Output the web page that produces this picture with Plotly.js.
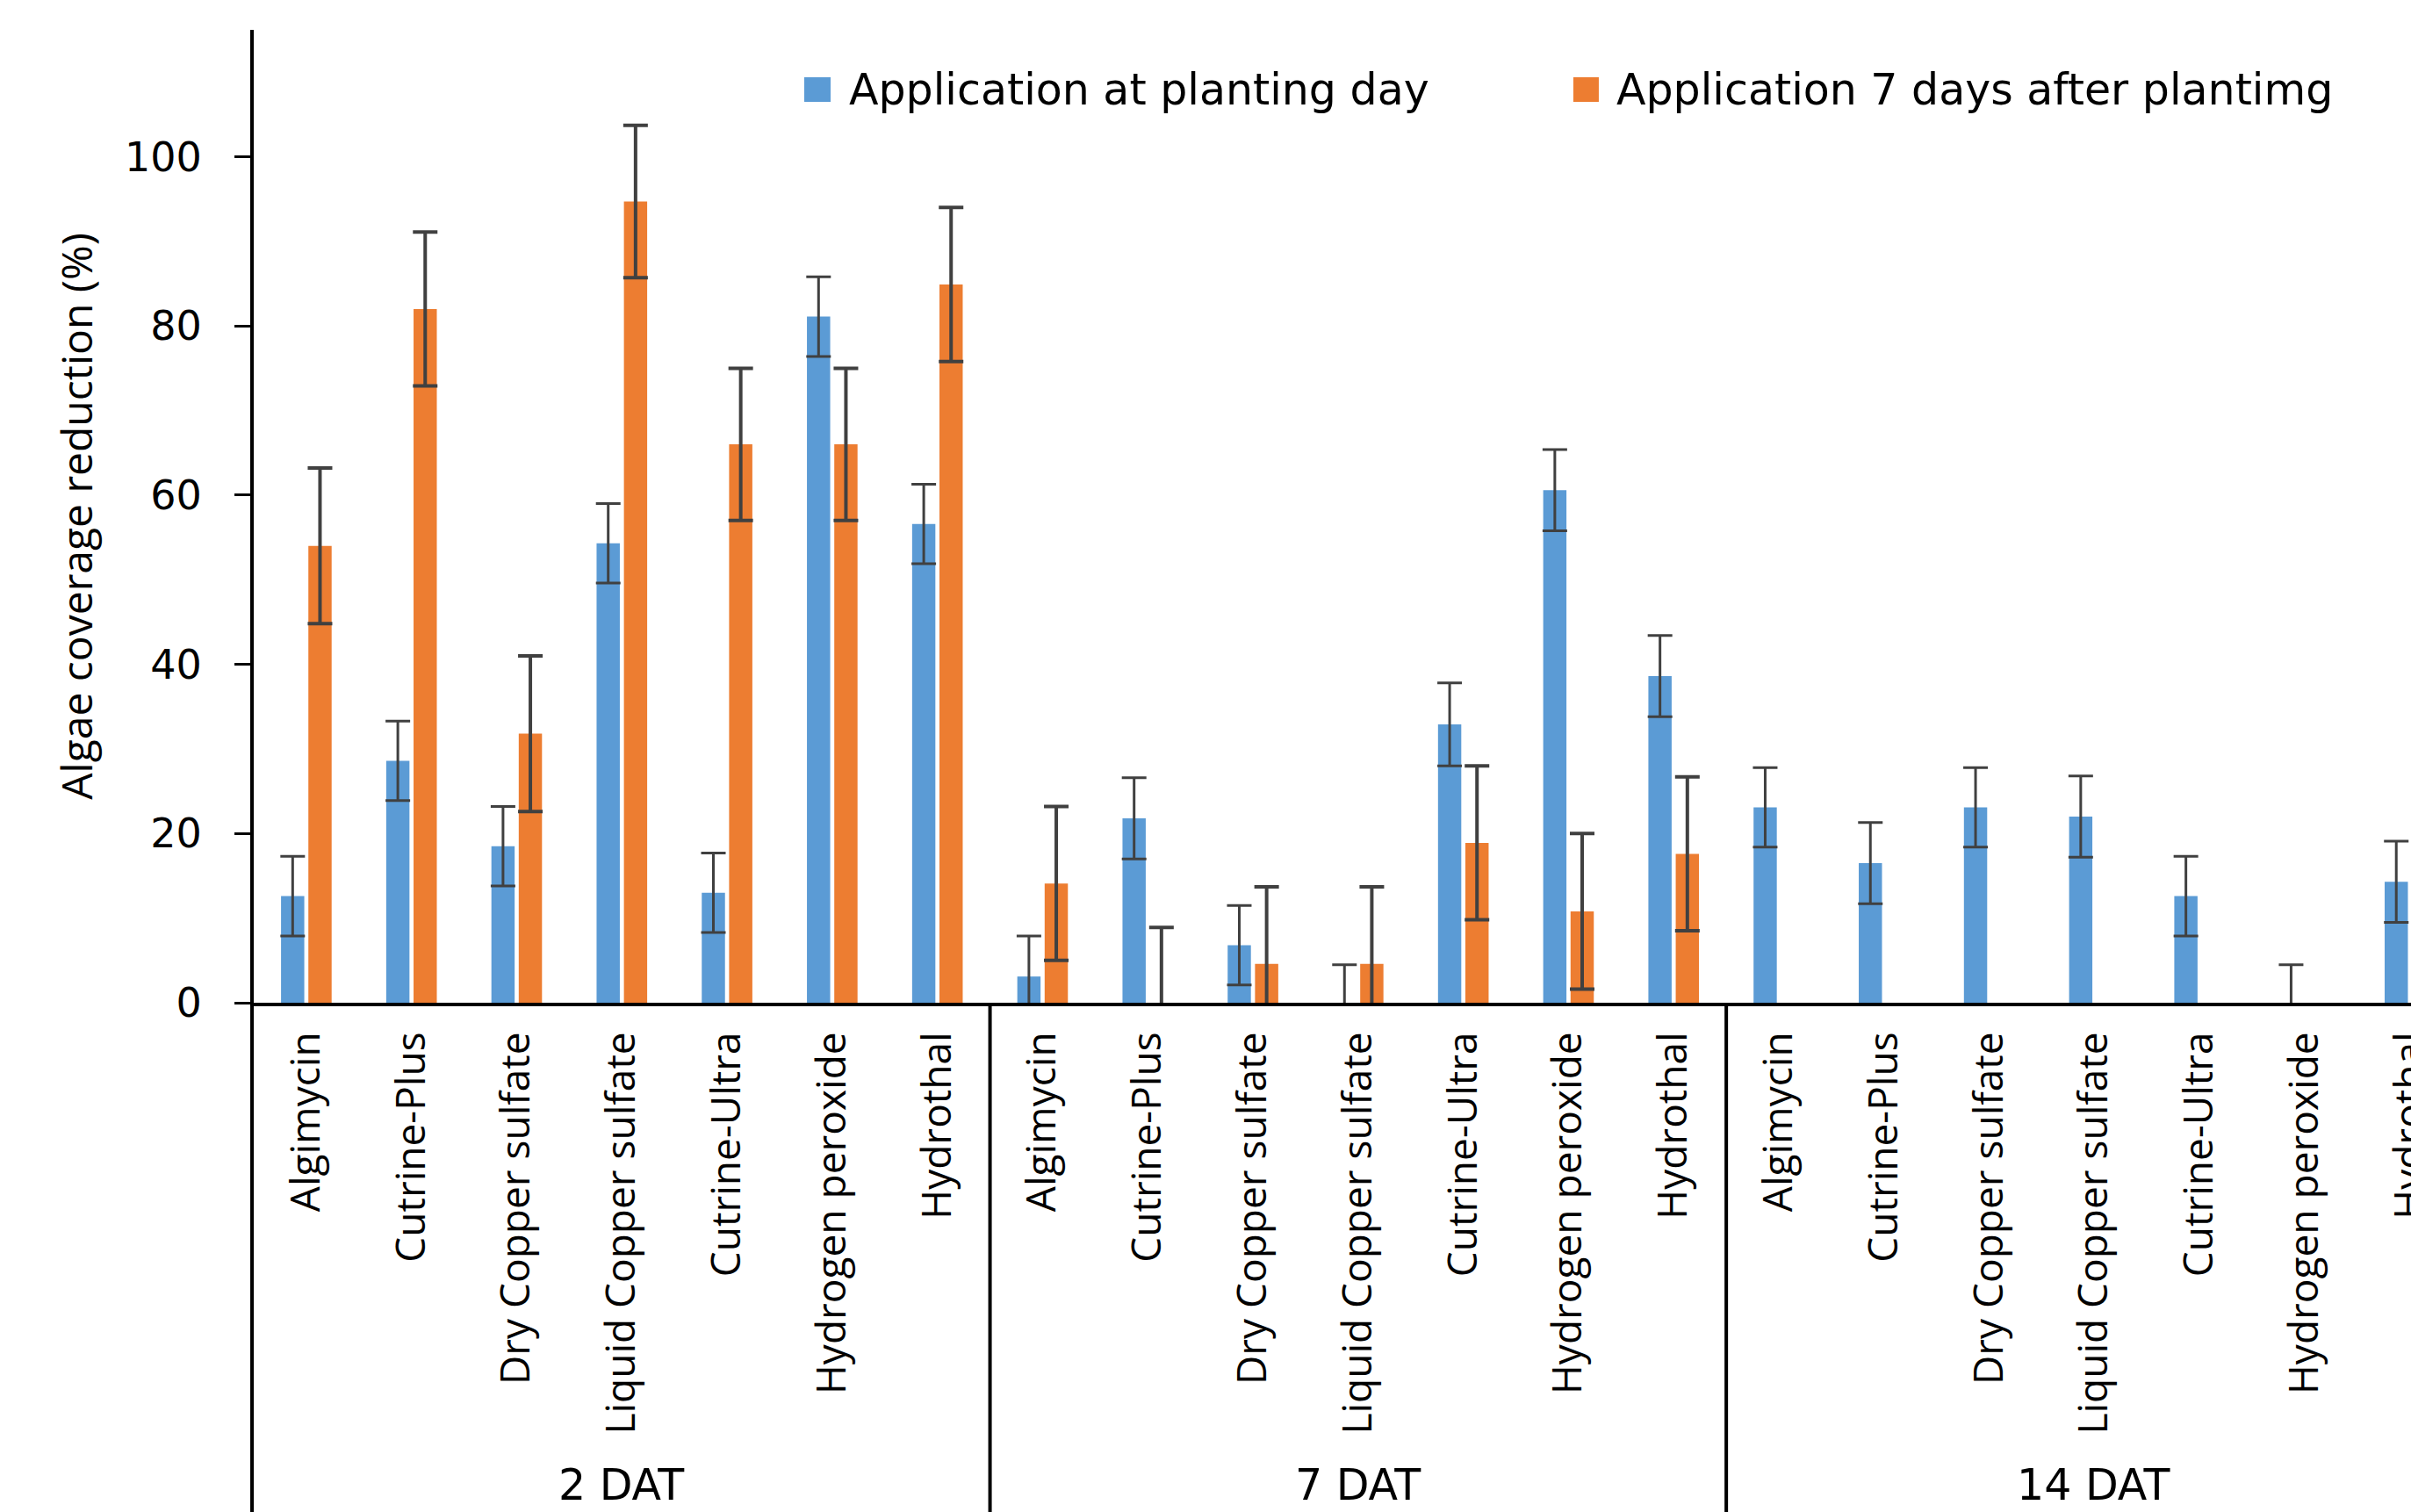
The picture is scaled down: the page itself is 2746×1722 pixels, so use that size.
<!DOCTYPE html>
<html><head><meta charset="utf-8">
<script src="https://cdn.plot.ly/plotly-3.0.1.min.js"></script>
<style>html,body{margin:0;padding:0;background:#fff}#chart{width:2746px;height:1722px}</style>
</head><body><div id="chart"></div>
<script>
// ---- data ----
const treatments = ['Algimycin','Cutrine-Plus','Dry Copper sulfate','Liquid Copper sulfate','Cutrine-Ultra','Hydrogen peroxide','Hydrothal'];
const timepoints = ['2 DAT','7 DAT','14 DAT'];
const seriesNames = ['Application at planting day','Application 7 days after plantimg'];
const plantingDay = [12.6, 28.6, 18.5, 54.3, 13.0, 81.1, 56.6,
                     3.1, 21.8, 6.8, 0, 32.9, 60.6, 38.6,
                     23.1, 16.5, 23.1, 22.0, 12.6, 0, 14.3];
const plantingDayErr = [4.7, 4.7, 4.7, 4.7, 4.7, 4.7, 4.7,
                        4.8, 4.8, 4.7, 4.5, 4.9, 4.8, 4.8,
                        4.7, 4.8, 4.7, 4.8, 4.7, 4.5, 4.8];
const sevenDaysAfter = [54.0, 82.0, 31.8, 94.7, 66.0, 66.0, 84.9,
                        14.1, 0, 4.6, 4.6, 18.9, 10.8, 17.6,
                        null, null, null, null, null, null, null];
const sevenDaysAfterErr = [9.2, 9.1, 9.2, 9.0, 9.0, 9.0, 9.1,
                           9.1, 8.9, 9.1, 9.1, 9.1, 9.2, 9.1,
                           0, 0, 0, 0, 0, 0, 0];
const yTicks = [0, 20, 40, 60, 80, 100];
const seriesColors = ['#5B9BD5', '#ED7D31'];

// ---- derived positions ----
const nT = treatments.length;
const xPos = [], xLabels = [];
timepoints.forEach((tp, g) => treatments.forEach((t, i) => { xPos.push(g * nT + i); xLabels.push(t); }));

const errStyle = {color: '#404040', width: 14};
const traces = [
  {type: 'bar', name: seriesNames[0], x: xPos, y: plantingDay,
   marker: {color: seriesColors[0]},
   error_y: Object.assign({type: 'data', array: plantingDayErr, visible: true, thickness: 3}, errStyle)},
  {type: 'bar', name: seriesNames[1], x: xPos, y: sevenDaysAfter,
   marker: {color: seriesColors[1]},
   error_y: Object.assign({type: 'data', array: sevenDaysAfterErr, visible: true, thickness: 4}, errStyle)}
];

const textFont = {family: 'DejaVu Sans', size: 49, color: '#000'};
const shapes = [];
const annotations = [];

// left axis extension through label area
shapes.push({type: 'line', xref: 'paper', yref: 'paper', x0: -0.0008, x1: -0.0008, y0: 0, y1: -0.53,
             line: {color: '#000', width: 4}});
// group dividers and group labels
timepoints.forEach((tp, g) => {
  if (g < timepoints.length - 1) {
    shapes.push({type: 'line', xref: 'x', yref: 'paper', x0: (g + 1) * nT - 0.5, x1: (g + 1) * nT - 0.5,
                 y0: 0, y1: -0.53, line: {color: '#000', width: 4}});
  }
  annotations.push({xref: 'x', yref: 'paper', x: g * nT + (nT - 1) / 2, y: -0.5225,
                    xanchor: 'center', yanchor: 'bottom', borderpad: 0, showarrow: false, text: tp, font: textFont});
});
// legend
const legendX = [[0.2552, 0.2674, 0.2751], [0.6117, 0.6235, 0.6309]];
seriesNames.forEach((nm, k) => {
  shapes.push({type: 'rect', xref: 'paper', yref: 'paper', x0: legendX[k][0], x1: legendX[k][1],
               y0: 0.9260, y1: 0.9513, fillcolor: seriesColors[k], line: {width: 0}});
  annotations.push({xref: 'paper', yref: 'paper', x: legendX[k][2], y: 0.9386, xanchor: 'left', yanchor: 'middle',
                    showarrow: false, text: nm, font: textFont});
});

const layout = {
  width: 2746, height: 1722,
  margin: {l: 289, r: 0, t: 34, b: 580, pad: 0},
  paper_bgcolor: '#fff', plot_bgcolor: '#fff',
  barmode: 'group', bargap: 0.48, bargroupgap: 0.15,
  showlegend: false,
  xaxis: {
    range: [-0.5, 20.01], tickmode: 'array', tickvals: xPos, ticktext: xLabels, tickangle: -90,
    showline: true, linecolor: '#000', linewidth: 4, showgrid: false, zeroline: false, ticks: '',
    tickfont: {family: 'Open Sans', size: 46, color: '#000'}, ticklabelstandoff: 11,
    ticklabeloverflow: 'allow', automargin: false
  },
  yaxis: {
    range: [0, 115], tickmode: 'array', tickvals: yTicks,
    showline: true, linecolor: '#000', linewidth: 4, showgrid: false, zeroline: false,
    ticks: 'outside', ticklen: 18, tickwidth: 3, tickcolor: '#000',
    tickfont: {family: 'DejaVu Sans', size: 46, color: '#000'}, ticklabelstandoff: 28,
    title: {text: 'Algae coverage reduction (%)', font: {family: 'Open Sans', size: 48, color: '#000'}, standoff: 22},
    automargin: true
  },
  shapes: shapes,
  annotations: annotations
};

Plotly.newPlot('chart', traces, layout, {displayModeBar: false, staticPlot: true});
</script>
</body></html>
